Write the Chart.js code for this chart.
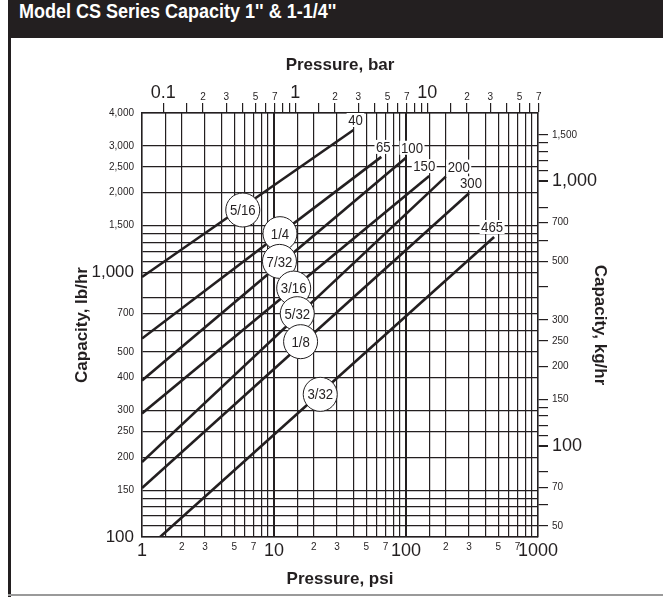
<!DOCTYPE html>
<html>
<head>
<meta charset="utf-8">
<script src="https://cdn.jsdelivr.net/npm/chart.js@4.4.0/dist/chart.umd.min.js"></script>
<style>
  body { margin: 0; background: #fff; }
  #wrap { position: relative; width: 663px; height: 597px; overflow: hidden; background: #fff; }
  #band { position: absolute; left: 8px; top: 0; width: 655px; height: 38px; background: #231f20; }
  #band span { position: absolute; left: 11px; top: 0; line-height: 38px; color: #fff; white-space: nowrap;
               font: bold 20px "Liberation Sans", Arial, sans-serif; transform: scaleX(0.9); transform-origin: left center; }
  #frameL { position: absolute; left: 8px; top: 38px; width: 3px; height: 559px; background: #231f20; }
  #frameB { position: absolute; left: 8px; top: 594px; width: 655px; height: 2px; background: #9a9a9a; }
  canvas { position: absolute; left: 0; top: 0; }
</style>
</head>
<body>
<div id="wrap">
  <div id="band"><span>Model CS Series Capacity 1'' &amp; 1-1/4''</span></div>
  <div id="frameL"></div>
  <div id="frameB"></div>
  <canvas id="myChart" width="663" height="597"></canvas>
</div>
<script>
// orifice lines, start and end (psi, lb/hr)
const orifices = ["5/16", "1/4", "7/32", "3/16", "5/32", "1/8", "3/32"];
const psiStart = [1, 1, 1, 1, 1, 1, 1.37];
const capStart = [960, 562, 390, 293, 192, 153, 100];
const psiEnd = [40, 65, 100, 150, 200, 300, 465];
const capEnd = [3450, 2730, 2710, 2310, 2300, 1990, 1360];

// where the orifice bubbles sit on the lines
const bubblePsi = [5.8, 11.1, 11.0, 14.1, 15.0, 15.9, 22.4];
const bubbleCap = [1720, 1400, 1100, 872, 698, 547, 346];

// bottom axis, psi
const psiGrid = [1, 1.5, 2, 3, 4, 5, 6, 7, 8, 9, 10, 15, 20, 30, 40, 50, 60, 70, 80, 90,
  100, 150, 200, 300, 400, 500, 600, 700, 800, 900, 1000];
const psiTickVals = [1, 2, 3, 5, 7, 10, 20, 30, 50, 70, 100, 200, 300, 500, 700, 1000];
const psiTickText = ["1", "2", "3", "5", "7", "10", "2", "3", "5", "7", "100", "2", "3", "5", "7", "1000"];

// top axis, bar
const barGrid = [0.1, 0.15, 0.2, 0.3, 0.4, 0.5, 0.6, 0.7, 0.8, 0.9, 1, 1.5, 2, 3, 4, 5, 6, 7, 8, 9,
  10, 15, 20, 30, 40, 50, 60, 70];
const barTickVals = [0.1, 0.2, 0.3, 0.5, 0.7, 1, 2, 3, 5, 7, 10, 20, 30, 50, 70];
const barTickText = ["0.1", "2", "3", "5", "7", "1", "2", "3", "5", "7", "10", "2", "3", "5", "7"];

// left axis, lb/hr
const capGrid = [100, 110, 120, 130, 140, 150, 200, 250, 300, 400, 500, 600, 700, 800,
  1000, 1100, 1200, 1300, 1400, 1500, 2000, 2500, 3000, 4000];
const capTickVals = [100, 150, 200, 250, 300, 400, 500, 700, 1000, 1500, 2000, 2500, 3000, 4000];
const capTickText = ["100", "150", "200", "250", "300", "400", "500", "700", "1,000", "1,500", "2,000", "2,500", "3,000", "4,000"];

// right axis, kg/hr
const kgGrid = [50, 60, 70, 80, 100, 110, 120, 130, 140, 150, 200, 250, 300, 400, 500, 600, 700, 800,
  1000, 1100, 1200, 1300, 1400, 1500];
const kgTickVals = [50, 70, 100, 150, 200, 250, 300, 500, 700, 1000, 1500];
const kgTickText = ["50", "70", "100", "150", "200", "250", "300", "500", "700", "1,000", "1,500"];

// sideways nudge of the pressure labels so 150 and 200 don't collide
const endLabelNudge = [2, 2, 6, -5, 13, 2, -2];

const PSI_PER_BAR = 14.5038;
const KG_PER_LB = 0.45359;
const ink = "#231f20";
const sans = '"Liberation Sans", Arial, sans-serif';

function findIndex(list, v) {
  for (let i = 0; i < list.length; i++) {
    if (Math.abs(list[i] - v) < 1e-6 * list[i]) return i;
  }
  return -1;
}
function labelFor(v, vals, text) {
  const i = findIndex(vals, v);
  return i < 0 ? "" : text[i];
}
function isDecade(v) {
  const l = Math.log10(v);
  return Math.abs(l - Math.round(l)) < 1e-6;
}
function tickFont(big, bigSize) {
  return big ? { family: sans, size: bigSize || 18, lineHeight: 1 } : { family: sans, size: 10, lineHeight: 1 };
}
function titleFont() {
  return { family: sans, size: 17, weight: "bold", lineHeight: 1.2 };
}
// condensed look: squeeze the text a little sideways
function narrowText(ctx, text, x, y) {
  ctx.save();
  ctx.translate(x, y);
  ctx.scale(0.88, 1);
  ctx.fillText(text, 0, 0);
  ctx.restore();
}

// line datasets, one per orifice
const lineSets = [];
for (let i = 0; i < orifices.length; i++) {
  lineSets.push({
    type: "line",
    label: orifices[i],
    data: [{ x: psiStart[i], y: capStart[i] }, { x: psiEnd[i], y: capEnd[i] }],
    borderColor: ink,
    borderWidth: 2.6,
    pointRadius: 0,
    order: 2,
  });
}
const bubbleSet = {
  type: "scatter",
  label: "orifice",
  data: bubblePsi.map((p, i) => ({ x: p, y: bubbleCap[i] })),
  pointRadius: 17,
  pointHoverRadius: 17,
  backgroundColor: "#fff",
  borderColor: ink,
  borderWidth: 1,
  order: 1,
};

// draws the pressure numbers at line ends and the sizes in the bubbles
const markLabels = {
  id: "markLabels",
  afterDatasetsDraw(chart) {
    const ctx = chart.ctx;
    const x = chart.scales.x;
    const y = chart.scales.y;
    ctx.save();
    ctx.font = "15px " + sans;
    ctx.textAlign = "center";
    ctx.textBaseline = "middle";
    for (let i = 0; i < psiEnd.length; i++) {
      const px = x.getPixelForValue(psiEnd[i]) + endLabelNudge[i];
      const py = y.getPixelForValue(capEnd[i]) - 10;
      const text = String(psiEnd[i]);
      const w = ctx.measureText(text).width * 0.88 + 3;
      ctx.fillStyle = "#fff";
      ctx.fillRect(px - w / 2, py - 7, w, 14);
      ctx.fillStyle = ink;
      narrowText(ctx, text, px, py + 1);
    }
    for (let i = 0; i < orifices.length; i++) {
      narrowText(ctx, orifices[i], x.getPixelForValue(bubblePsi[i]), y.getPixelForValue(bubbleCap[i]) + 1);
    }
    ctx.restore();
  },
};

const ctx = document.getElementById("myChart");
new Chart(ctx, {
  data: { datasets: lineSets.concat([bubbleSet]) },
  plugins: [markLabels],
  options: {
    responsive: false,
    animation: false,
    events: [],
    layout: { padding: { top: 40, left: 12, right: 0, bottom: 4 } },
    plugins: { legend: { display: false }, tooltip: { enabled: false } },
    scales: {
      x: {
        type: "logarithmic",
        position: "bottom",
        min: 1,
        max: 1000,
        bounds: "data",
        afterBuildTicks: (s) => { s.ticks = psiGrid.map((v) => ({ value: v })); },
        afterFit: (s) => { s.height = 56; },
        ticks: {
          autoSkip: false,
          maxRotation: 0,
          padding: 5,
          color: ink,
          font: (c) => tickFont(isDecade(c.tick.value)),
          callback: (v) => labelFor(v, psiTickVals, psiTickText),
        },
        grid: {
          color: ink,
          lineWidth: (c) => (c.tick && (c.tick.value === 10 || c.tick.value === 100) ? 2 : 1.2),
          drawTicks: false,
        },
        border: { color: ink, width: 1.5 },
        title: {
          display: true,
          text: "Pressure, psi",
          color: ink,
          font: titleFont(),
          padding: { top: 0, bottom: 3 },
        },
      },
      x2: {
        type: "logarithmic",
        position: "top",
        display: true,
        min: 1 / PSI_PER_BAR,
        max: 1000 / PSI_PER_BAR,
        bounds: "data",
        afterBuildTicks: (s) => { s.ticks = barGrid.map((v) => ({ value: v })); },
        afterFit: (s) => { s.height = 73; },
        ticks: {
          autoSkip: false,
          maxRotation: 0,
          padding: 1,
          color: ink,
          font: (c) => tickFont(isDecade(c.tick.value)),
          callback: (v) => labelFor(v, barTickVals, barTickText),
        },
        grid: { color: ink, lineWidth: 1.2, drawOnChartArea: false, drawTicks: true, tickLength: 10 },
        border: { color: ink, width: 1.5 },
        title: {
          display: true,
          text: "Pressure, bar",
          color: ink,
          font: titleFont(),
          padding: { top: 15, bottom: 0 },
        },
      },
      y: {
        type: "logarithmic",
        position: "left",
        min: 100,
        max: 4000,
        bounds: "data",
        afterBuildTicks: (s) => { s.ticks = capGrid.map((v) => ({ value: v })); },
        afterFit: (s) => { s.width = 130; },
        ticks: {
          autoSkip: false,
          padding: 8,
          color: ink,
          font: (c) => tickFont(c.tick.value === 100 || c.tick.value === 1000, 17),
          callback: (v) => labelFor(v, capTickVals, capTickText),
        },
        grid: { color: ink, lineWidth: 1.2, drawTicks: false },
        border: { color: ink, width: 1.5 },
        title: {
          display: true,
          text: "Capacity, lb/hr",
          color: ink,
          font: titleFont(),
          padding: { top: 60, bottom: 0 },
        },
      },
      y2: {
        type: "logarithmic",
        position: "right",
        display: true,
        min: 100 * KG_PER_LB,
        max: 4000 * KG_PER_LB,
        bounds: "data",
        afterBuildTicks: (s) => { s.ticks = kgGrid.map((v) => ({ value: v })); },
        afterFit: (s) => { s.width = 125; },
        ticks: {
          autoSkip: false,
          padding: 4,
          color: ink,
          font: (c) => tickFont(c.tick.value === 100 || c.tick.value === 1000),
          callback: (v) => labelFor(v, kgTickVals, kgTickText),
        },
        grid: {
          color: ink,
          lineWidth: (c) => (c.tick && (c.tick.value === 100 || c.tick.value === 1000) ? 2 : 1.2),
          drawOnChartArea: false,
          drawTicks: true,
          tickLength: 10,
        },
        border: { color: ink, width: 1.5 },
        title: {
          display: true,
          text: "Capacity, kg/hr",
          color: ink,
          font: titleFont(),
          padding: { top: 53, bottom: 0 },
        },
      },
    },
  },
});
</script>
</body>
</html>
